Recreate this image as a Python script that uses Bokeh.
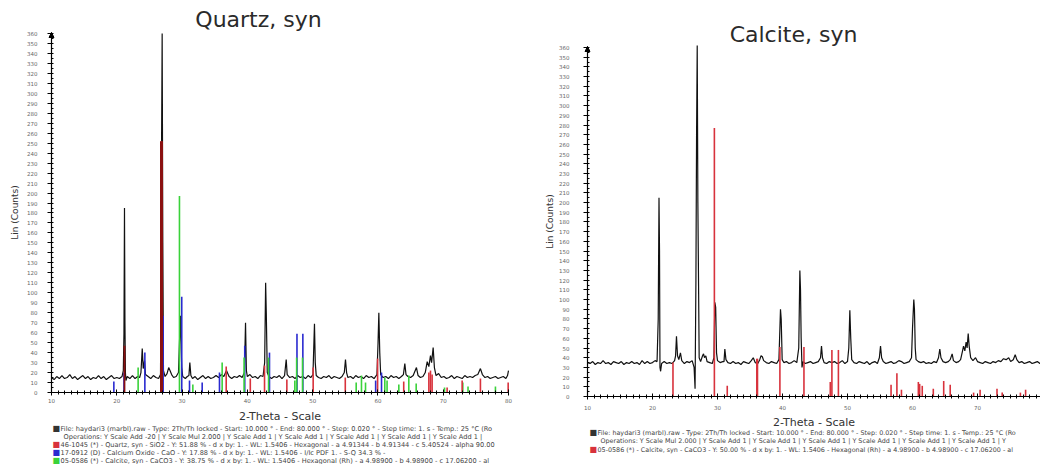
from bokeh.plotting import figure
from bokeh.layouts import row
from bokeh.models import Label, FixedTicker, Arrow, NormalHead, Range1d, LinearAxis
from bokeh.embed import file_html
from bokeh.resources import INLINE

# ---------------- DATA: Quartz panel (left) ----------------
tt_q = [10.0, 10.4, 10.8, 11.2, 11.6, 12.0, 12.4, 12.8, 13.2, 13.6, 14.0, 14.4, 14.8, 15.2, 15.6, 16.0,
        16.4, 16.8, 17.2, 17.6, 18.0, 18.4, 18.8, 19.2, 19.6, 20.0, 20.4, 20.8, 21.0, 21.1, 21.18, 21.25,
        21.32, 21.4, 21.6, 22.0, 22.4, 22.8, 23.2, 23.5, 23.7, 23.9, 24.05, 24.25, 24.4, 24.8, 25.2, 25.6,
        26.0, 26.4, 26.7, 26.82, 26.95, 27.05, 27.15, 27.4, 27.7, 27.95, 28.15, 28.4, 28.7, 29.1, 29.45,
        29.6, 29.75, 29.85, 29.95, 30.1, 30.5, 30.8, 31.05, 31.19, 31.35, 31.6, 32.0, 32.4, 32.8, 33.2,
        33.6, 34.0, 34.4, 34.8, 35.2, 35.6, 36.0, 36.4, 36.8, 37.0, 37.2, 37.6, 38.0, 38.4, 38.8, 39.2,
        39.55, 39.72, 39.85, 40.0, 40.4, 40.8, 41.2, 41.6, 42.0, 42.4, 42.65, 42.8, 42.9, 43.05, 43.3,
        43.7, 44.1, 44.5, 44.9, 45.3, 45.7, 45.95, 46.1, 46.5, 46.9, 47.3, 47.7, 48.1, 48.5, 48.9, 49.3,
        49.7, 50.05, 50.28, 50.4, 50.55, 50.9, 51.3, 51.7, 52.1, 52.5, 52.9, 53.3, 53.7, 54.1, 54.5,
        54.85, 55.03, 55.2, 55.4, 55.8, 56.2, 56.6, 57.0, 57.4, 57.8, 58.2, 58.6, 59.0, 59.4, 59.85,
        60.02, 60.14, 60.28, 60.42, 60.8, 61.2, 61.6, 62.0, 62.4, 62.8, 63.2, 63.6, 63.9, 64.12, 64.3,
        64.6, 65.0, 65.4, 65.9, 66.15, 66.5, 66.9, 67.25, 67.55, 67.8, 68.05, 68.22, 68.46, 68.65, 68.9,
        69.3, 69.7, 70.1, 70.5, 70.9, 71.3, 71.7, 72.1, 72.5, 72.9, 73.3, 73.7, 74.1, 74.5, 74.9, 75.3,
        75.7, 76.0, 76.4, 76.8, 77.2, 77.6, 78.0, 78.4, 78.8, 79.2, 79.6, 79.85, 80.0]
counts_q = [15, 13, 16, 14, 17, 14, 15, 18, 14, 16, 13, 15, 17, 14, 16, 13,
            15, 14, 17, 14, 16, 13, 15, 17, 14, 15, 14, 16, 22, 60, 185, 70,
            20, 12, 16, 14, 17, 14, 16, 15, 20, 44, 24, 32, 18, 16, 14, 17,
            15, 14, 18, 200, 360, 150, 22, 16, 19, 25, 22, 18, 15, 16, 20,
            50, 77, 45, 25, 16, 14, 16, 17, 30, 17, 14, 16, 13, 15, 17,
            14, 16, 14, 15, 17, 15, 18, 16, 22, 19, 16, 14, 16, 15, 17, 15,
            20, 70, 22, 16, 18, 15, 16, 14, 17, 16, 30, 110, 80, 20, 16,
            14, 16, 15, 17, 14, 17, 33, 18, 15, 16, 14, 17, 15, 16, 14, 17,
            15, 18, 69, 30, 17, 15, 14, 16, 15, 17, 14, 16, 15, 14, 16,
            20, 33, 20, 15, 16, 14, 17, 15, 16, 14, 17, 15, 16, 14, 18,
            50, 80, 40, 18, 15, 16, 14, 17, 15, 16, 14, 16, 18, 29, 18,
            16, 15, 17, 25, 17, 15, 16, 20, 31, 26, 37, 30, 45, 25, 17,
            19, 15, 16, 14, 15, 17, 14, 16, 15, 14, 17, 15, 16, 15, 17, 18,
            24, 18, 15, 16, 14, 15, 16, 14, 15, 16, 14, 17, 22]

# reference sticks (Quartz 46-1045, red)
quartz_pos = [21.18, 26.85, 36.76, 40.45, 42.63, 46.05, 50.08, 55.0, 59.95, 63.95, 67.8, 68.05, 68.3,
              70.6, 72.9, 75.7, 79.95]
quartz_h = [47, 252, 26, 14, 27, 13, 25, 15, 34, 11, 20, 22, 18, 5, 12, 14, 10]
# (Calcium Oxide 17-0912, blue)
cao_pos = [19.55, 21.1, 24.3, 27.1, 29.95, 31.14, 33.08, 35.73, 39.6, 43.39, 47.6, 48.5, 59.65, 60.55]
cao_h = [11, 20, 40, 77, 96, 12, 10, 20, 47, 40, 59, 59, 12, 20]
# (Calcite 05-0586, green)
calq_pos = [23.27, 29.6, 31.65, 36.14, 39.5, 43.25, 47.27, 47.55, 48.45, 56.67, 57.48, 58.1, 61.05, 61.4,
            63.2, 64.73, 65.86, 70.2, 73.0, 73.8, 78.0]
calq_h = [25, 197, 8, 30, 35, 35, 12, 35, 35, 10, 17, 10, 15, 12, 8, 17, 9, 5, 10, 6, 6]

# ---------------- DATA: Calcite panel (right) ----------------
tt_c = [10.0, 10.4, 10.8, 11.2, 11.6, 12.0, 12.4, 12.8, 13.2, 13.6, 14.0, 14.4, 14.8, 15.2, 15.6, 16.0,
        16.4, 16.8, 17.2, 17.6, 18.0, 18.4, 18.8, 19.2, 19.6, 20.0, 20.4, 20.7, 20.88, 21.0, 21.08, 21.15,
        21.25, 21.4, 21.8, 22.2, 22.6, 23.0, 23.4, 23.55, 23.69, 23.85, 24.05, 24.3, 24.5, 24.9, 25.3,
        25.7, 26.1, 26.4, 26.55, 26.68, 26.78, 26.88, 26.98, 27.08, 27.18, 27.4, 27.7, 27.85, 28.0, 28.2,
        28.4, 28.8, 29.2, 29.45, 29.59, 29.72, 29.85, 30.0, 30.4, 30.8, 31.0, 31.13, 31.3, 31.6, 32.0,
        32.4, 32.8, 33.2, 33.6, 34.0, 34.4, 34.8, 35.2, 35.5, 35.8, 36.2, 36.5, 36.7, 36.9, 37.1, 37.5,
        37.9, 38.3, 38.7, 39.1, 39.45, 39.6, 39.69, 39.8, 39.95, 40.2, 40.6, 41.0, 41.4, 41.8, 42.2, 42.5,
        42.67, 42.77, 42.87, 43.0, 43.15, 43.5, 43.9, 44.3, 44.7, 45.1, 45.5, 45.85, 46.0, 46.15, 46.4,
        46.8, 47.2, 47.6, 48.0, 48.4, 48.8, 49.2, 49.6, 50.0, 50.2, 50.36, 50.5, 50.65, 51.0, 51.4, 51.8,
        52.2, 52.6, 53.0, 53.4, 53.8, 54.2, 54.6, 54.9, 55.08, 55.25, 55.5, 55.9, 56.3, 56.7, 57.1, 57.5,
        57.9, 58.3, 58.7, 59.1, 59.5, 59.85, 60.0, 60.2, 60.3, 60.42, 60.55, 60.9, 61.3, 61.7, 62.1, 62.5,
        62.9, 63.3, 63.7, 64.0, 64.2, 64.38, 64.7, 65.1, 65.5, 65.8, 66.1, 66.3, 66.7, 67.1, 67.4, 67.7,
        67.85, 68.05, 68.25, 68.4, 68.57, 68.72, 68.95, 69.3, 69.7, 70.0, 70.4, 70.8, 71.2, 71.6, 72.0,
        72.4, 72.8, 73.2, 73.6, 74.0, 74.4, 74.8, 75.1, 75.5, 75.8, 76.05, 76.4, 76.8, 77.2, 77.6, 78.0,
        78.4, 78.8, 79.2, 79.6, 80.0]
counts_c = [35, 34, 36, 33, 35, 34, 37, 34, 35, 33, 36, 35, 34, 36, 33, 35,
            34, 36, 34, 35, 33, 37, 34, 36, 34, 35, 37, 36, 80, 205, 150, 30,
            26, 34, 36, 34, 35, 34, 37, 42, 62, 42, 38, 45, 37, 34, 36,
            35, 37, 30, 8, 120, 270, 362, 200, 120, 40, 36, 42, 44, 40, 42,
            36, 35, 34, 40, 97, 92, 45, 37, 35, 36, 36, 49, 38, 35, 34,
            36, 34, 35, 33, 36, 35, 34, 37, 40, 35, 34, 38, 42, 41, 37, 35,
            34, 36, 35, 34, 38, 70, 90, 80, 38, 35, 36, 34, 35, 37, 35, 50,
            130, 110, 60, 30, 36, 34, 35, 36, 34, 35, 36, 40, 52, 40, 35,
            34, 36, 35, 36, 34, 35, 37, 34, 36, 50, 89, 60, 38, 35, 34, 36,
            35, 34, 36, 33, 35, 36, 34, 40, 52, 40, 36, 34, 35, 36, 34, 35,
            37, 36, 34, 35, 36, 40, 70, 100, 90, 50, 38, 36, 35, 36, 34, 35,
            34, 36, 35, 40, 49, 40, 36, 35, 36, 38, 44, 37, 35, 36, 38, 47,
            52, 47, 56, 50, 65, 52, 40, 37, 40, 36, 35, 34, 36, 35, 34,
            36, 35, 37, 36, 39, 38, 40, 36, 38, 43, 38, 35, 36, 34, 35, 36,
            34, 35, 36, 34, 35]

# reference sticks (Calcite 05-0586, red)
calc_pos = [23.15, 29.52, 31.5, 36.05, 36.15, 39.6, 43.3, 47.35, 47.6, 48.6, 56.7, 57.6, 58.3, 60.9,
            61.1, 61.5, 63.2, 64.8, 65.8, 69.4, 70.4, 73.0, 73.8, 76.6, 77.4]
calc_h = [35, 277, 11, 39, 39, 51, 51, 15, 48, 48, 12, 24, 7, 15, 13, 11, 8, 16, 12, 4, 7, 8, 4, 4, 7]

# ---------------- TEXTS ----------------
y_title = "Lin (Counts)"
x_title = "2-Theta - Scale"
file_line = ("File: haydari3 (marbl).raw - Type: 2Th/Th locked - Start: 10.000 \u00b0 - End: 80.000 \u00b0 - "
             "Step: 0.020 \u00b0 - Step time: 1. s - Temp.: 25 \u00b0C (Ro")
ops_q = ("Operations: Y Scale Add -20 | Y Scale Mul 2.000 | Y Scale Add 1 | Y Scale Add 1 | Y Scale Add 1 | "
         "Y Scale Add 1 | Y Scale Add 1 |")
ops_c = ("Operations: Y Scale Mul 2.000 | Y Scale Add 1 | Y Scale Add 1 | Y Scale Add 1 | Y Scale Add 1 | "
         "Y Scale Add 1 | Y Scale Add 1 | Y")
ref_quartz = ("46-1045 (*) - Quartz, syn - SiO2 - Y: 51.88 % - d x by: 1. - WL: 1.5406 - Hexagonal - "
              "a 4.91344 - b 4.91344 - c 5.40524 - alpha 90.00")
ref_cao = "17-0912 (D) - Calcium Oxide - CaO - Y: 17.88 % - d x by: 1. - WL: 1.5406 - I/Ic PDF 1. - S-Q 34.3 % -"
ref_calq = ("05-0586 (*) - Calcite, syn - CaCO3 - Y: 38.75 % - d x by: 1. - WL: 1.5406 - Hexagonal (Rh) - "
            "a 4.98900 - b 4.98900 - c 17.06200 - al")
ref_calc = ("05-0586 (*) - Calcite, syn - CaCO3 - Y: 50.00 % - d x by: 1. - WL: 1.5406 - Hexagonal (Rh) - "
            "a 4.98900 - b 4.98900 - c 17.06200 - al")

FONT = "DejaVu Sans"
TXT = "#444444"
RED, DRED, BLUE, GREEN = "#d8323c", "#8a1010", "#2a2ad0", "#3ad23a"
W, H = 520, 464
PAGE_TOP = 0


class Mapper:
    """page-pixel <-> data for a figure whose frame fills the whole canvas"""

    def __init__(self, page_left, page_x10, px_per_deg, page_y0, px_per_count):
        self.pl, self.px10, self.kx = page_left, page_x10, px_per_deg
        self.py0, self.ky = page_y0, px_per_count

    def x(self, px):
        return 10 + (px - self.px10) / self.kx

    def y(self, py):
        return (self.py0 - py) / self.ky

    def xr(self):
        return Range1d(self.x(self.pl), self.x(self.pl + W))

    def yr(self):
        return Range1d(self.y(PAGE_TOP + H), self.y(PAGE_TOP))


def make_fig(m, y_standoff, ylab_standoff, x_standoff, xlab_standoff):
    p = figure(width=W, height=H, output_backend="svg", toolbar_location=None,
               x_range=m.xr(), y_range=m.yr(), x_axis_location=None, y_axis_location=None,
               min_border_left=0, min_border_right=0, min_border_top=0, min_border_bottom=0,
               background_fill_color="white", border_fill_color="white")
    xa = LinearAxis(fixed_location=0, bounds=(10, 80),
                    ticker=FixedTicker(ticks=list(range(10, 81, 10)), minor_ticks=list(range(10, 81))))
    ya = LinearAxis(fixed_location=10, bounds=(0, 361),
                    ticker=FixedTicker(ticks=list(range(0, 361, 10)), minor_ticks=list(range(0, 361, 5))))
    p.add_layout(xa, "below")
    p.add_layout(ya, "left")
    for ax in (xa, ya):
        ax.axis_line_color = "black"
        ax.axis_line_width = 1.2
        ax.major_tick_line_color = "black"
        ax.minor_tick_line_color = "black"
        ax.major_label_text_font = FONT
        ax.major_label_text_font_size = "5.5px"
        ax.major_label_text_color = "#666666"
        ax.axis_label_text_font = FONT
        ax.axis_label_text_font_style = "normal"
        ax.axis_label_text_color = "#333333"
    xa.major_tick_in = 3
    xa.major_tick_out = 3
    xa.minor_tick_in = 2
    xa.minor_tick_out = 2
    xa.major_label_standoff = x_standoff
    xa.axis_label = x_title
    xa.axis_label_text_font_size = "11px"
    xa.axis_label_standoff = xlab_standoff
    ya.major_tick_in = 0
    ya.major_tick_out = 4
    ya.minor_tick_in = 2
    ya.minor_tick_out = 0
    ya.major_label_standoff = y_standoff
    ya.axis_label = y_title
    ya.axis_label_text_font_size = "9px"
    ya.axis_label_standoff = ylab_standoff
    p.xgrid.visible = False
    p.ygrid.visible = False
    p.outline_line_color = None
    p.add_layout(Arrow(end=NormalHead(size=5, fill_color="black", line_color="black"),
                       x_start=10, y_start=352, x_end=10, y_end=361, line_width=1))
    return p


def add_text(p, x, y, text, size="6.8px", color=TXT, align="left"):
    p.add_layout(Label(x=x, y=y, text=text, text_font=FONT, text_font_size=size, text_color=color,
                       text_align=align, text_baseline="middle"))


# ---------------- LEFT FIGURE ----------------
mq = Mapper(page_left=0, page_x10=51, px_per_deg=457 / 70, page_y0=392, px_per_count=360 / 361)
pq = make_fig(mq, 10, 4, 2, 4)
pq.line(tt_q, counts_q, line_color="#111111", line_width=1.2)
pq.segment(x0=cao_pos, y0=0, x1=cao_pos, y1=cao_h, line_color=BLUE, line_width=1.6)
pq.segment(x0=calq_pos, y0=0, x1=calq_pos, y1=calq_h, line_color=GREEN, line_width=1.6)
pq.segment(x0=quartz_pos[1:], y0=0, x1=quartz_pos[1:], y1=quartz_h[1:], line_color=RED, line_width=1.6)
pq.segment(x0=quartz_pos[:1], y0=0, x1=quartz_pos[:1], y1=quartz_h[:1], line_color=DRED, line_width=1.8)
pq.segment(x0=[quartz_pos[1]], y0=0, x1=[quartz_pos[1]], y1=[quartz_h[1]], line_color=DRED, line_width=3)

add_text(pq, mq.x(258), mq.y(19), "Quartz, syn", size="22px", color="#2a2a2a", align="center")
rows_q = [(file_line, "#333333", 60), (ops_q, None, 63), (ref_quartz, RED, 60), (ref_cao, BLUE, 60),
          (ref_calq, GREEN, 60)]
for i, (t, c, px) in enumerate(rows_q):
    py = 428 + 8 * i
    if c is not None:
        add_text(pq, mq.x(52), mq.y(py), "\u25a0", size="8px", color=c)
    add_text(pq, mq.x(px), mq.y(py), t, size="6.6px")

# ---------------- RIGHT FIGURE ----------------
mc = Mapper(page_left=520, page_x10=587, px_per_deg=6.5, page_y0=396, px_per_count=350 / 361)
pc = make_fig(mc, 14, 1, 5, 3)
pc.line(tt_c, counts_c, line_color="#111111", line_width=1.2)
pc.segment(x0=calc_pos, y0=0, x1=calc_pos, y1=calc_h, line_color=RED, line_width=1.6)

add_text(pc, mc.x(793), mc.y(34), "Calcite, syn", size="22px", color="#2a2a2a", align="center")
rows_c = [(file_line, "#333333", 597), (ops_c, None, 600), (ref_calc, RED, 597)]
for i, (t, c, px) in enumerate(rows_c):
    py = 432 + 8.5 * i
    if c is not None:
        add_text(pc, mc.x(589), mc.y(py), "\u25a0", size="8px", color=c)
    add_text(pc, mc.x(px), mc.y(py), t, size="6.4px")

layout = row(pq, pc)
open("out.html", "w").write(file_html(layout, INLINE))
